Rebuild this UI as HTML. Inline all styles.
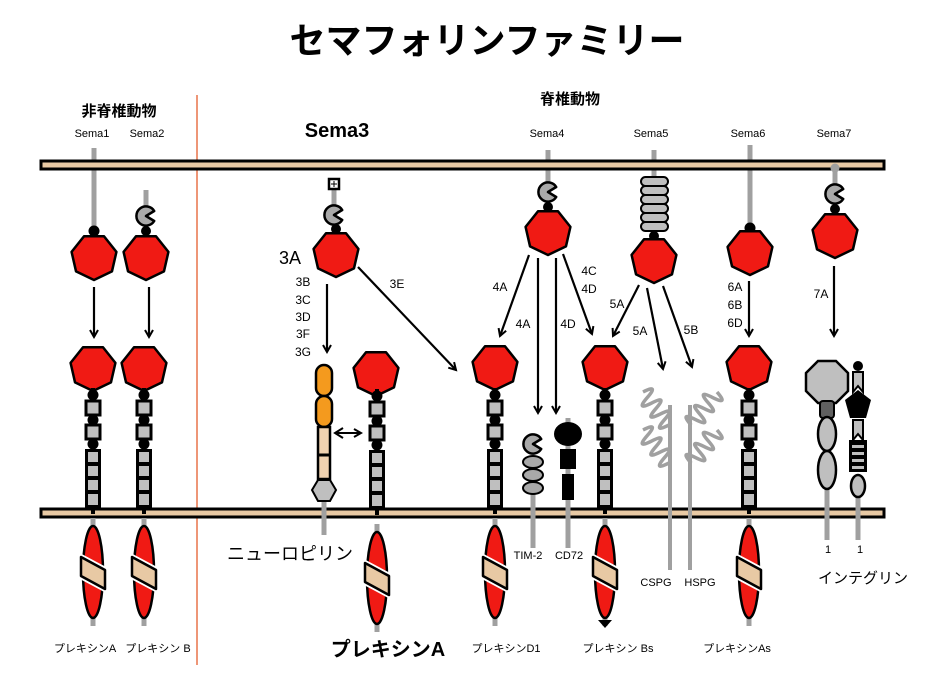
<!DOCTYPE html>
<html><head><meta charset="utf-8"><style>
html,body{margin:0;padding:0;background:#fff;}
svg{display:block;}
text{font-family:"Liberation Sans","Noto Sans CJK JP",sans-serif;fill:#000;}
</style></head><body>
<svg width="946" height="677" viewBox="0 0 946 677" xmlns="http://www.w3.org/2000/svg">
<defs>
<polygon id="hep" points="0,23 -17.98,14.34 -22.42,-5.12 -9.98,-20.72 9.98,-20.72 22.42,-5.12 17.98,14.34" fill="#f01a14" stroke="#000" stroke-width="2.5" stroke-linejoin="round"/>
<path id="pac" d="M0,0 L8.2,-5 A9.6,9.6 0 1,0 8.2,5 Z" fill="#a9a9a9" stroke="#000" stroke-width="2.5" stroke-linejoin="round"/>
<marker id="ah" markerWidth="10" markerHeight="10" refX="8" refY="5" orient="auto" markerUnits="userSpaceOnUse">
<path d="M1,1 L8,5 L1,9" fill="none" stroke="#000" stroke-width="2"/>
</marker>
<path id="coil" d="M0,0 q3.5,-18 7,0 t7,0 t7,0 t7,0 t7,0 t7,0" fill="none" stroke="#a0a0a0" stroke-width="3.5"/>
<g id="stalk">
<line x1="0" y1="20" x2="0" y2="146" stroke="#000" stroke-width="4"/>
<circle cx="0" cy="27" r="5.5" fill="#000"/>
<rect x="-7" y="33" width="14" height="14" fill="#bfbfbf" stroke="#000" stroke-width="3"/>
<circle cx="0" cy="52" r="5.5" fill="#000"/>
<rect x="-7" y="57" width="14" height="14" fill="#bfbfbf" stroke="#000" stroke-width="3"/>
<circle cx="0" cy="76" r="5.5" fill="#000"/>
<rect x="-8" y="81" width="16" height="60" fill="#000"/>
<rect x="-5" y="84" width="10" height="10" fill="#bfbfbf"/>
<rect x="-5" y="98" width="10" height="10" fill="#bfbfbf"/>
<rect x="-5" y="112" width="10" height="10" fill="#bfbfbf"/>
<rect x="-5" y="126" width="10" height="11" fill="#bfbfbf"/>
</g>
<g id="cyto">
<line x1="0" y1="0" x2="0" y2="108" stroke="#a0a0a0" stroke-width="5"/>
<ellipse cx="0" cy="54" rx="10" ry="46" fill="#f01a14" stroke="#000" stroke-width="2.5"/>
<polygon points="-15,34 15,50 15,76 -15,60" fill="#fff"/>
<polygon points="-12,39 12,52 12,71 -12,58" fill="#e8c9a4" stroke="#000" stroke-width="2.5" stroke-linejoin="round"/>
</g>
</defs>

<text x="487" y="53" font-size="36" font-weight="bold" text-anchor="middle">セマフォリンファミリー</text>
<text x="119" y="116" font-size="15" font-weight="bold" text-anchor="middle">非脊椎動物</text>
<text x="570" y="104" font-size="15" font-weight="bold" text-anchor="middle">脊椎動物</text>
<text x="337" y="137" font-size="20" font-weight="bold" text-anchor="middle">Sema3</text>
<g font-size="11" text-anchor="middle">
<text x="92" y="137">Sema1</text><text x="147" y="137">Sema2</text>
<text x="547" y="137">Sema4</text><text x="651" y="137">Sema5</text>
<text x="748" y="137">Sema6</text><text x="834" y="137">Sema7</text>
</g>

<line x1="197" y1="95" x2="197" y2="665" stroke="#e8744a" stroke-width="1.5"/>

<g stroke="#a0a0a0" stroke-width="5">
<line x1="94" y1="148" x2="94" y2="232"/>
<line x1="146" y1="190" x2="146" y2="210"/>
<line x1="334" y1="190" x2="334" y2="210"/>
<line x1="548" y1="150" x2="548" y2="185"/>
<line x1="654" y1="150" x2="654" y2="178"/>
<line x1="750" y1="145" x2="750" y2="228"/>
<line x1="835" y1="160" x2="835" y2="190"/>
</g>

<rect x="41" y="161" width="843" height="8" fill="#e8c9a4" stroke="#000" stroke-width="3"/>
<rect x="41" y="509" width="843" height="8" fill="#e8c9a4" stroke="#000" stroke-width="3"/>

<circle cx="94" cy="231" r="5.5"/>
<use href="#hep" x="94" y="257"/>
<use href="#pac" x="146" y="216"/>
<circle cx="146" cy="231" r="5"/>
<use href="#hep" x="146" y="257"/>
<rect x="329" y="179" width="10" height="10" fill="#fff" stroke="#000" stroke-width="2.5"/>
<line x1="334" y1="181" x2="334" y2="187" stroke="#000" stroke-width="1"/><line x1="331" y1="184" x2="337" y2="184" stroke="#000" stroke-width="1"/>
<use href="#pac" x="334" y="215"/>
<circle cx="336" cy="229" r="5"/>
<use href="#hep" x="336" y="254"/>
<text x="290" y="264" font-size="18" text-anchor="middle">3A</text>
<g font-size="12" text-anchor="middle">
<text x="303" y="286">3B</text><text x="303" y="304">3C</text><text x="303" y="321">3D</text><text x="303" y="338">3F</text><text x="303" y="356">3G</text>
<text x="397" y="288">3E</text>
</g>
<use href="#pac" x="548" y="192"/>
<circle cx="548" cy="207" r="5"/>
<use href="#hep" x="548" y="232"/>
<g fill="#bfbfbf" stroke="#000" stroke-width="2">
<rect x="641" y="177" width="27" height="9" rx="4.5"/>
<rect x="641" y="186" width="27" height="9" rx="4.5"/>
<rect x="641" y="195" width="27" height="9" rx="4.5"/>
<rect x="641" y="204" width="27" height="9" rx="4.5"/>
<rect x="641" y="213" width="27" height="9" rx="4.5"/>
<rect x="641" y="222" width="27" height="9" rx="4.5"/>
</g>
<circle cx="654" cy="236" r="5"/>
<use href="#hep" x="654" y="260"/>
<circle cx="750" cy="228" r="5.5"/>
<use href="#hep" x="750" y="252"/>
<circle cx="835" cy="168" r="4.5" fill="#a0a0a0"/>
<use href="#pac" x="835" y="194"/>
<circle cx="835" cy="209" r="5"/>
<use href="#hep" x="835" y="235"/>

<g stroke="#000" stroke-width="2.2" marker-end="url(#ah)">
<line x1="94" y1="287" x2="94" y2="337"/>
<line x1="149" y1="287" x2="149" y2="337"/>
<line x1="327" y1="284" x2="327" y2="352"/>
<line x1="358" y1="267" x2="456" y2="370"/>
<line x1="529" y1="255" x2="500" y2="336"/>
<line x1="538" y1="258" x2="538" y2="413"/>
<line x1="556" y1="258" x2="556" y2="413"/>
<line x1="563" y1="254" x2="592" y2="334"/>
<line x1="639" y1="285" x2="613" y2="336"/>
<line x1="647" y1="288" x2="663" y2="369"/>
<line x1="663" y1="286" x2="692" y2="367"/>
<line x1="749" y1="281" x2="749" y2="336"/>
<line x1="834" y1="266" x2="834" y2="336"/>
</g>
<g font-size="12" text-anchor="middle">
<text x="500" y="291">4A</text><text x="523" y="328">4A</text><text x="568" y="328">4D</text>
<text x="589" y="275">4C</text><text x="589" y="293">4D</text>
<text x="617" y="308">5A</text><text x="640" y="335">5A</text><text x="691" y="334">5B</text>
<text x="735" y="291">6A</text><text x="735" y="309">6B</text><text x="735" y="327">6D</text>
<text x="821" y="298">7A</text>
</g>

<use href="#hep" x="93" y="368"/><use href="#stalk" x="93" y="368"/><use href="#cyto" x="93" y="518"/>
<use href="#hep" x="144" y="368"/><use href="#stalk" x="144" y="368"/><use href="#cyto" x="144" y="518"/>
<use href="#hep" x="376" y="373"/><use href="#stalk" x="377" y="369"/><use href="#cyto" x="377" y="524"/>
<use href="#hep" x="495" y="367"/><use href="#stalk" x="495" y="368"/><use href="#cyto" x="495" y="518"/>
<use href="#hep" x="605" y="367"/><use href="#stalk" x="605" y="368"/><use href="#cyto" x="605" y="518"/>
<polygon points="598,620 612,620 605,628" fill="#000"/>
<use href="#hep" x="749" y="367"/><use href="#stalk" x="749" y="368"/><use href="#cyto" x="749" y="518"/>

<line x1="324" y1="490" x2="324" y2="535" stroke="#a0a0a0" stroke-width="5"/>
<rect x="316" y="365" width="16" height="31" rx="8" fill="#f49a1e" stroke="#000" stroke-width="2.5"/>
<rect x="316" y="396" width="16" height="31" rx="8" fill="#f49a1e" stroke="#000" stroke-width="2.5"/>
<rect x="318" y="427" width="12" height="52" fill="#f0d2b0" stroke="#000" stroke-width="2.5"/>
<line x1="318" y1="455" x2="330" y2="455" stroke="#000" stroke-width="3"/>
<polygon points="318,480 330,480 336,490 330,501 318,501 312,490" fill="#bfbfbf" stroke="#000" stroke-width="2"/>
<line x1="337" y1="433" x2="361" y2="433" stroke="#000" stroke-width="2" marker-end="url(#ah)"/>
<path d="M343,428 L335,433 L343,438" fill="none" stroke="#000" stroke-width="2"/>

<line x1="533" y1="490" x2="533" y2="548" stroke="#a0a0a0" stroke-width="5"/>
<use href="#pac" x="533" y="444"/>
<g fill="#a9a9a9" stroke="#000" stroke-width="2">
<ellipse cx="533" cy="462" rx="10" ry="6"/><ellipse cx="533" cy="475" rx="10" ry="6"/><ellipse cx="533" cy="488" rx="10" ry="6"/>
</g>
<line x1="568" y1="418" x2="568" y2="548" stroke="#a0a0a0" stroke-width="5"/>
<ellipse cx="568" cy="434" rx="14" ry="12" fill="#000"/>
<rect x="560" y="449" width="16" height="20" fill="#000"/>
<rect x="562" y="474" width="12" height="26" fill="#000"/>

<g stroke="#a0a0a0" stroke-width="4" fill="none">
<line x1="670" y1="405" x2="670" y2="570"/>
<line x1="690" y1="405" x2="690" y2="570"/>
</g>
<use href="#coil" transform="translate(643,392) rotate(52)"/>
<use href="#coil" transform="translate(643,430) rotate(52)"/>
<use href="#coil" transform="translate(717,392) rotate(128)"/>
<use href="#coil" transform="translate(717,430) rotate(128)"/>

<line x1="827" y1="490" x2="827" y2="540" stroke="#a0a0a0" stroke-width="5"/>
<line x1="858" y1="495" x2="858" y2="540" stroke="#a0a0a0" stroke-width="5"/>
<polygon points="818,361 836,361 848,373 848,391 836,403 818,403 806,391 806,373" fill="#bfbfbf" stroke="#000" stroke-width="2.5"/>
<rect x="820" y="401" width="14" height="17" rx="3" fill="#606060" stroke="#000" stroke-width="2"/>
<ellipse cx="827" cy="434" rx="9" ry="17" fill="#bfbfbf" stroke="#000" stroke-width="2.5"/>
<ellipse cx="827" cy="470" rx="9" ry="19" fill="#bfbfbf" stroke="#000" stroke-width="2.5"/>
<circle cx="858" cy="366" r="5" fill="#000"/>
<polygon points="853,372 863,372 863,392 858,386 853,392" fill="#bfbfbf" stroke="#000" stroke-width="2"/>
<polygon points="858,390 871,400 866,418 850,418 845,400" fill="#000"/>
<polygon points="853,420 863,420 863,440 858,434 853,440" fill="#bfbfbf" stroke="#000" stroke-width="2"/>
<rect x="849" y="440" width="18" height="32" fill="#000"/>
<g fill="#bfbfbf"><rect x="852" y="445" width="12" height="3"/><rect x="852" y="452" width="12" height="3"/><rect x="852" y="459" width="12" height="3"/><rect x="852" y="466" width="12" height="3"/></g>
<ellipse cx="858" cy="486" rx="7" ry="11" fill="#bfbfbf" stroke="#000" stroke-width="2.5"/>

<text x="290" y="560" font-size="18" text-anchor="middle">ニューロピリン</text>
<g font-size="11" text-anchor="middle">
<text x="528" y="559">TIM-2</text><text x="569" y="559">CD72</text>
<text x="656" y="586">CSPG</text><text x="700" y="586">HSPG</text>
<text x="828" y="553">1</text><text x="860" y="553">1</text>
<text x="85" y="652">プレキシンA</text><text x="158" y="652">プレキシン B</text>
<text x="506" y="652">プレキシンD1</text><text x="618" y="652">プレキシン Bs</text><text x="737" y="652">プレキシンAs</text>
</g>
<text x="863" y="583" font-size="15" text-anchor="middle">インテグリン</text>
<text x="388" y="656" font-size="20" font-weight="bold" text-anchor="middle">プレキシンA</text>
</svg>
</body></html>
